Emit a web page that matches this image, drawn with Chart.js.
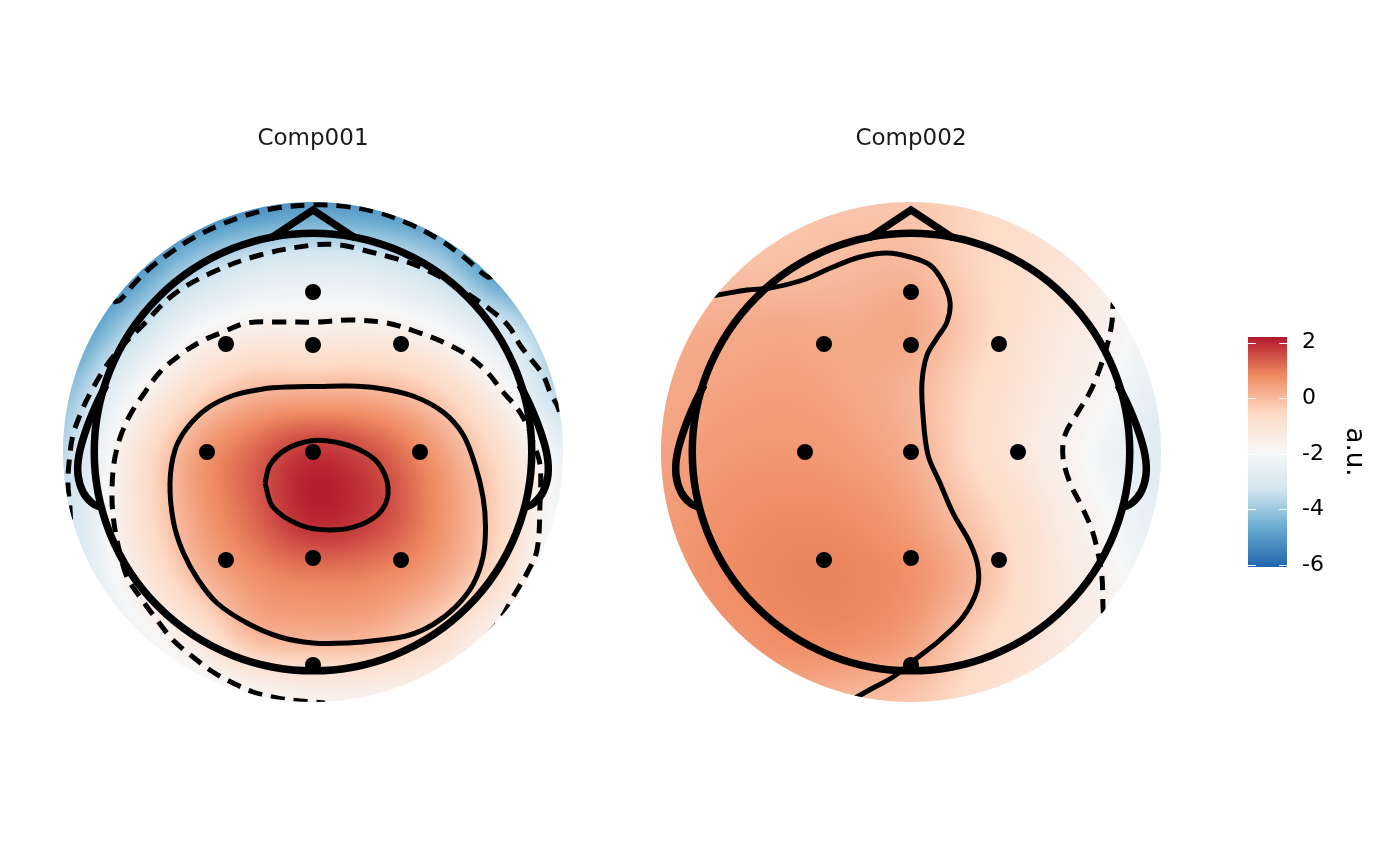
<!DOCTYPE html>
<html>
<head>
<meta charset="utf-8">
<script src="https://cdn.jsdelivr.net/npm/chart.js@4.4.1/dist/chart.umd.min.js"></script>
<style>
  html, body { margin: 0; padding: 0; background: #fff; }
  #wrap { position: relative; width: 1400px; height: 866px; overflow: hidden; }
  #wrap canvas { position: absolute; left: 0; top: 0; }
</style>
</head>
<body>
<div id="wrap">
  <canvas id="comp1" width="1400" height="866"></canvas>
  <canvas id="comp2" width="1400" height="866"></canvas>
  <canvas id="legend" width="1400" height="866"></canvas>
</div>
<script>
// panel titles
const titles = ['Comp001', 'Comp002'];

// interpolation grid (disc radius = 1)
const gridX = [-1, -0.75, -0.5, -0.25, 0, 0.25, 0.5, 0.75, 1];
const gridY = [1, 0.75, 0.5, 0.25, 0, -0.25, -0.5, -0.75, -1];
const comp1Values = [
  [-6.5, -6.3, -5.9, -5.4, -5.05, -5.2, -5.5, -5.6, -5.5],
  [-6.3, -5.5, -4.07, -3.13, -2.88, -3.02, -3.81, -5.3, -5.8],
  [-5.5, -3.9, -2.24, -1.58, -1.55, -1.52, -1.98, -3.15, -4.3],
  [-4.3, -2.3, -0.81, -0.03, 0.1, 0.05, -0.47, -1.7, -3.8],
  [-3.6, -1.4, 0.27, 1.2, 1.85, 1.45, 0.5, -0.74, -2.4],
  [-3.4, -1.3, 0.26, 1.22, 2.05, 1.7, 0.73, -0.49, -2.2],
  [-3.3, -1.7, -0.19, 0.65, 0.96, 0.85, 0.35, -0.8, -2.5],
  [-3.0, -2.4, -1.38, -0.1, 0.1, 0.0, -0.73, -1.9, -2.8],
  [-3.0, -2.8, -2.5, -2.0, -1.65, -1.7, -1.9, -2.3, -2.8]
];
const comp2Values = [
  [-0.1, -0.15, -0.2, -0.2, -0.25, -0.5, -0.85, -1.3, -1.9],
  [-0.05, -0.1, -0.1, 0.0, 0.03, -0.45, -0.85, -1.3, -2.0],
  [0.2, 0.25, 0.3, 0.25, 0.3, -0.35, -1.0, -1.5, -2.3],
  [0.3, 0.4, 0.45, 0.35, 0.1, -0.55, -1.15, -1.75, -2.6],
  [0.4, 0.55, 0.6, 0.5, 0.2, -0.6, -1.3, -2.1, -2.8],
  [0.5, 0.7, 0.8, 0.75, 0.45, -0.25, -1.0, -1.85, -2.6],
  [0.55, 0.75, 0.9, 0.9, 0.7, 0.05, -0.9, -1.6, -2.4],
  [0.5, 0.6, 0.75, 0.75, 0.45, -0.4, -1.0, -1.6, -2.2],
  [0.4, 0.4, 0.3, 0.05, -0.2, -0.7, -1.2, -1.7, -2.2]
];

// electrode positions
const electrodeX = [0, -0.348, 0, 0.352, -0.424, 0, 0.428, -0.348, 0, 0.352, 0];
const electrodeY = [0.64, 0.432, 0.428, 0.432, 0, 0, 0, -0.432, -0.424, -0.432, -0.852];

// head outline pieces
const headRadius = 0.875;
const nose = [[-0.17, 0.855], [0, 0.968], [0.17, 0.855]];
const leftEar = [[-0.828, 0.268], [-0.868, 0.188], [-0.908, 0.088], [-0.936, -0.012], [-0.94, -0.092], [-0.92, -0.16], [-0.884, -0.204], [-0.844, -0.224]];
const rightEar = [[0.828, 0.268], [0.868, 0.188], [0.908, 0.088], [0.936, -0.012], [0.94, -0.092], [0.92, -0.16], [0.884, -0.204], [0.844, -0.224]];

// contour lines, Comp001
const c1Level165 = [[-0.192, -0.124], [-0.172, -0.052], [-0.112, 0.008], [-0.012, 0.044], [0.088, 0.04], [0.188, 0.008], [0.26, -0.044], [0.3, -0.14], [0.276, -0.232], [0.188, -0.292], [0.068, -0.312], [-0.052, -0.292], [-0.16, -0.22], [-0.192, -0.124]];
const c1Level0 = [[0.028, 0.262], [-0.1, 0.26], [-0.2, 0.252], [-0.32, 0.226], [-0.424, 0.174], [-0.504, 0.096], [-0.552, 0.008], [-0.572, -0.124], [-0.558, -0.28], [-0.52, -0.4], [-0.46, -0.51], [-0.384, -0.604], [-0.264, -0.684], [-0.132, -0.74], [0, -0.764], [0.14, -0.764], [0.27, -0.752], [0.38, -0.734], [0.48, -0.69], [0.57, -0.62], [0.64, -0.53], [0.68, -0.42], [0.69, -0.3], [0.68, -0.18], [0.648, -0.05], [0.6, 0.07], [0.52, 0.16], [0.4, 0.224], [0.256, 0.256], [0.13, 0.264], [0.028, 0.262]];
const c1LevelM165 = [[0.7, -0.73], [0.748, -0.672], [0.8, -0.58], [0.856, -0.484], [0.896, -0.392], [0.908, -0.204], [0.908, -0.052], [0.88, 0.04], [0.856, 0.108], [0.816, 0.176], [0.76, 0.24], [0.696, 0.32], [0.616, 0.388], [0.52, 0.44], [0.416, 0.48], [0.296, 0.516], [0.148, 0.528], [0.02, 0.52], [-0.132, 0.52], [-0.264, 0.516], [-0.36, 0.48], [-0.452, 0.44], [-0.532, 0.388], [-0.612, 0.32], [-0.68, 0.228], [-0.732, 0.148], [-0.772, 0.056], [-0.796, -0.044], [-0.804, -0.152], [-0.8, -0.252], [-0.78, -0.372], [-0.744, -0.5], [-0.692, -0.58], [-0.624, -0.672], [-0.56, -0.752], [-0.48, -0.82], [-0.4, -0.88], [-0.32, -0.924], [-0.24, -0.96], [-0.144, -0.984], [-0.052, -0.996], [0.048, -1.004]];
const c1LevelM33 = [[-0.97, -0.27], [-0.972, -0.224], [-0.98, -0.132], [-0.976, -0.044], [-0.96, 0.068], [-0.92, 0.176], [-0.88, 0.256], [-0.824, 0.348], [-0.756, 0.432], [-0.684, 0.504], [-0.56, 0.628], [-0.4, 0.72], [-0.212, 0.788], [0, 0.828], [0.108, 0.828], [0.2, 0.808], [0.308, 0.78], [0.388, 0.756], [0.48, 0.716], [0.608, 0.64], [0.736, 0.548], [0.788, 0.496], [0.828, 0.428], [0.868, 0.376], [0.92, 0.308], [0.948, 0.24], [0.976, 0.188], [0.99, 0.15]];
const c1LevelM495 = [[-0.8, 0.6], [-0.772, 0.608], [-0.72, 0.668], [-0.652, 0.736], [-0.572, 0.796], [-0.48, 0.856], [-0.372, 0.908], [-0.264, 0.948], [-0.144, 0.976], [0, 0.988], [0.12, 0.984], [0.256, 0.96], [0.388, 0.912], [0.508, 0.848], [0.608, 0.776], [0.7, 0.7], [0.73, 0.71]];

// contour lines, Comp002
const c2Level0 = [[-0.824, 0.624], [-0.776, 0.628], [-0.656, 0.648], [-0.564, 0.656], [-0.432, 0.688], [-0.312, 0.74], [-0.204, 0.78], [-0.096, 0.796], [-0.004, 0.78], [0.076, 0.748], [0.128, 0.68], [0.156, 0.6], [0.144, 0.52], [0.104, 0.456], [0.064, 0.388], [0.044, 0.28], [0.048, 0.148], [0.068, -0.012], [0.116, -0.124], [0.168, -0.244], [0.236, -0.364], [0.268, -0.46], [0.264, -0.552], [0.208, -0.66], [0.116, -0.752], [0.024, -0.824], [-0.072, -0.9], [-0.152, -0.944], [-0.216, -0.98], [-0.264, -1.012]];
const c2LevelM165 = [[0.816, 0.628], [0.808, 0.588], [0.804, 0.52], [0.788, 0.44], [0.756, 0.336], [0.716, 0.24], [0.668, 0.16], [0.616, 0.068], [0.608, -0.02], [0.636, -0.124], [0.684, -0.22], [0.724, -0.312], [0.748, -0.404], [0.764, -0.5], [0.768, -0.62], [0.772, -0.692]];

// colour bar
const legendTicks = [-6, -4, -2, 0, 2];
const scaleMin = -6.07;
const scaleMax = 2.2;
const paletteColours = ['#2166AC', '#67A9CF', '#D1E5F0', '#F7F7F7', '#FDDBC7', '#EF8A62', '#B2182B'];

Chart.defaults.font.family = "'DejaVu Sans', sans-serif";

const paletteRGB = paletteColours.map(h => [1, 3, 5].map(i => parseInt(h.slice(i, i + 2), 16)));

function colourFor(v) {
  let t = (v - scaleMin) / (scaleMax - scaleMin);
  t = Math.min(1, Math.max(0, t));
  const s = t * (paletteRGB.length - 1);
  const k = Math.min(Math.floor(s), paletteRGB.length - 2);
  const f = s - k;
  const a = paletteRGB[k], b = paletteRGB[k + 1];
  return [a[0] + (b[0] - a[0]) * f, a[1] + (b[1] - a[1]) * f, a[2] + (b[2] - a[2]) * f];
}

function catmull(p0, p1, p2, p3, t) {
  return p1 + 0.5 * t * (p2 - p0 + t * (2 * p0 - 5 * p1 + 4 * p2 - p3 + t * (3 * (p1 - p2) + p3 - p0)));
}

function sampleGrid(grid, vx, vy) {
  const n = gridX.length - 1, m = gridY.length - 1;
  const gx = (vx - gridX[0]) / (gridX[1] - gridX[0]);
  const gy = (vy - gridY[0]) / (gridY[1] - gridY[0]);
  const i = Math.min(Math.max(Math.floor(gx), 0), n - 1);
  const j = Math.min(Math.max(Math.floor(gy), 0), m - 1);
  const tx = gx - i, ty = gy - j;
  const at = (r, c) => grid[Math.min(Math.max(r, 0), m)][Math.min(Math.max(c, 0), n)];
  const rows = [];
  for (let k = -1; k <= 2; k++) {
    rows.push(catmull(at(j + k, i - 1), at(j + k, i), at(j + k, i + 1), at(j + k, i + 2), tx));
  }
  return catmull(rows[0], rows[1], rows[2], rows[3], ty);
}

// raster, disc clipping for contours and the head circle
const topoPlugin = {
  id: 'topo',
  beforeDatasetsDraw(chart, args, opts) {
    const {ctx, chartArea: a, scales: {x, y}} = chart;
    const w = Math.round(a.right - a.left), h = Math.round(a.bottom - a.top);
    const img = ctx.createImageData(w, h);
    const rpx = x.getPixelForValue(1) - x.getPixelForValue(0);
    for (let j = 0; j < h; j++) {
      const vy = y.getValueForPixel(a.top + j + 0.5);
      for (let i = 0; i < w; i++) {
        const vx = x.getValueForPixel(a.left + i + 0.5);
        const r = Math.hypot(vx, vy);
        const alpha = Math.min(1, Math.max(0, (1 - r) * rpx + 0.5));
        if (alpha <= 0) continue;
        const c = colourFor(sampleGrid(opts.grid, vx, vy));
        const k = (j * w + i) * 4;
        img.data[k] = c[0];
        img.data[k + 1] = c[1];
        img.data[k + 2] = c[2];
        img.data[k + 3] = alpha * 255;
      }
    }
    const off = document.createElement('canvas');
    off.width = w;
    off.height = h;
    off.getContext('2d').putImageData(img, 0, 0);
    ctx.drawImage(off, a.left, a.top);
  },
  beforeDatasetDraw(chart, args) {
    const {ctx, scales: {x, y}} = chart;
    const ds = chart.data.datasets[args.index];
    const cx = x.getPixelForValue(0), cy = y.getPixelForValue(0);
    if (ds.clipDisc) {
      ctx.save();
      ctx.beginPath();
      ctx.arc(cx, cy, x.getPixelForValue(1) - cx, 0, Math.PI * 2);
      ctx.clip();
    }
    if (args.index === 0) {
      ctx.save();
      ctx.beginPath();
      ctx.arc(cx, cy, x.getPixelForValue(headRadius) - cx, 0, Math.PI * 2);
      ctx.lineWidth = 7.5;
      ctx.strokeStyle = '#000';
      ctx.stroke();
      ctx.restore();
    }
  },
  afterDatasetDraw(chart, args) {
    if (chart.data.datasets[args.index].clipDisc) chart.ctx.restore();
  }
};

const toPoints = arr => arr.map(p => ({x: p[0], y: p[1]}));

function outline(points, width, tension) {
  return {
    type: 'line', data: toPoints(points), borderColor: '#000', borderWidth: width,
    pointRadius: 0, tension: tension, fill: false, borderJoinStyle: 'miter'
  };
}

function contour(points, dashed) {
  return {
    type: 'line', data: toPoints(points), borderColor: '#000', borderWidth: 5,
    borderDash: dashed ? [14, 9] : [], pointRadius: 0, tension: 0.35, fill: false,
    borderJoinStyle: 'round', clipDisc: true
  };
}

function makePanel(id, title, grid, solid, dashed, left) {
  const electrodes = electrodeX.map((v, i) => ({x: v, y: electrodeY[i]}));
  new Chart(document.getElementById(id), {
    type: 'scatter',
    data: {
      datasets: [
        {data: electrodes, pointRadius: 8, pointBackgroundColor: '#000', pointBorderWidth: 0, showLine: false},
        outline(nose, 7.5, 0),
        outline(leftEar, 7.5, 0.4),
        outline(rightEar, 7.5, 0.4),
        ...solid.map(c => contour(c, false)),
        ...dashed.map(c => contour(c, true))
      ]
    },
    options: {
      responsive: false,
      animation: false,
      events: [],
      layout: {padding: {left: left, right: 1400 - left - 500, top: 0, bottom: 164}},
      scales: {
        x: {display: false, min: -1, max: 1},
        y: {display: false, min: -1, max: 1}
      },
      plugins: {
        legend: {display: false},
        tooltip: {enabled: false},
        title: {
          display: true, text: title, color: '#1a1a1a',
          font: {size: 23, weight: 'normal'}, padding: {top: 125, bottom: 49.4}
        },
        topo: {grid: grid}
      }
    },
    plugins: [topoPlugin]
  });
}

makePanel('comp1', titles[0], comp1Values, [c1Level165, c1Level0], [c1LevelM165, c1LevelM33, c1LevelM495], 63);
makePanel('comp2', titles[1], comp2Values, [c2Level0], [c2LevelM165], 661);

// colour bar
const barPlugin = {
  id: 'bar',
  beforeDatasetsDraw(chart) {
    const {ctx, chartArea: a, scales: {y}} = chart;
    const g = ctx.createLinearGradient(0, y.getPixelForValue(scaleMin), 0, y.getPixelForValue(scaleMax));
    paletteColours.forEach((c, i) => g.addColorStop(i / (paletteColours.length - 1), c));
    ctx.save();
    ctx.fillStyle = g;
    ctx.fillRect(a.left, a.top, a.right - a.left, a.bottom - a.top);
    ctx.strokeStyle = '#fff';
    ctx.lineWidth = 1.2;
    const tl = (a.right - a.left) / 5;
    legendTicks.forEach(v => {
      const py = Math.round(y.getPixelForValue(v)) + 0.5;
      ctx.beginPath();
      ctx.moveTo(a.left, py); ctx.lineTo(a.left + tl, py);
      ctx.moveTo(a.right - tl, py); ctx.lineTo(a.right, py);
      ctx.stroke();
    });
    ctx.restore();
  }
};

new Chart(document.getElementById('legend'), {
  type: 'scatter',
  data: {datasets: []},
  options: {
    responsive: false,
    animation: false,
    events: [],
    layout: {padding: {left: 1248, right: 13, top: 337, bottom: 299}},
    scales: {
      x: {display: false, min: 0, max: 1},
      y: {
        position: 'right', min: scaleMin, max: scaleMax,
        afterBuildTicks: axis => { axis.ticks = legendTicks.map(v => ({value: v})); },
        afterFit: axis => { axis.width = 100; },
        grid: {display: false, drawTicks: false},
        border: {display: false},
        ticks: {padding: 15, color: '#000', font: {size: 22}},
        title: {display: true, text: 'a.u.', color: '#000', font: {size: 26}, padding: {top: 18, bottom: 0}}
      }
    },
    plugins: {legend: {display: false}, tooltip: {enabled: false}}
  },
  plugins: [barPlugin]
});
</script>
</body>
</html>
